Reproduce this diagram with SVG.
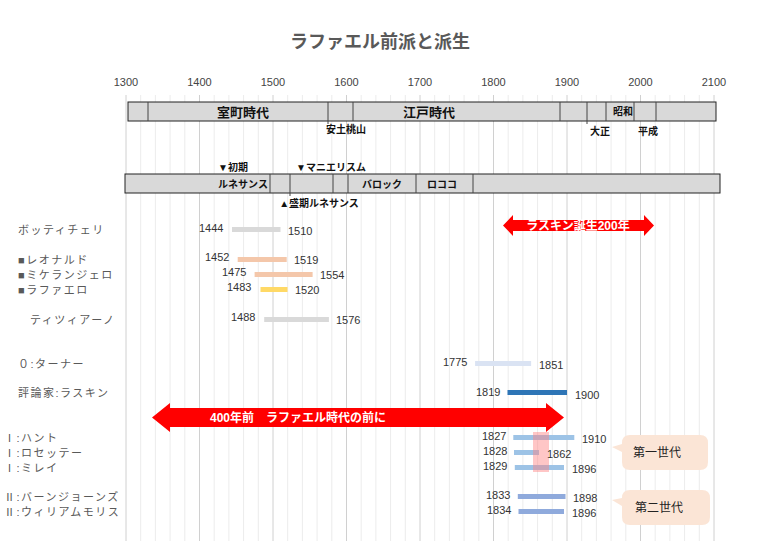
<svg xmlns="http://www.w3.org/2000/svg" width="761" height="541" viewBox="0 0 761 541">
<style>
text{font-family:"Liberation Sans","Noto Sans CJK JP",sans-serif;fill:#333}
.t{font-size:11px}
.lb{font-size:11px;fill:#595959;letter-spacing:1.5px}
.ax{font-size:11px;fill:#444;text-anchor:middle}
.era{font-size:13px;font-weight:bold;fill:#111;text-anchor:middle}
.sm{font-size:10px;font-weight:bold;fill:#111;text-anchor:middle}
.bar{stroke:none}
.mj{stroke:#d0d0d0;stroke-width:1}
.mn{stroke:#ececec;stroke-width:1}
.wt{font-size:12px;font-weight:bold;fill:#fff;text-anchor:middle}
</style>
<rect width="761" height="541" fill="#fff"/>
<text x="380" y="48" text-anchor="middle" style="font-size:18px;font-weight:bold;fill:#595959">ラファエル前派と派生</text>
<g id="grid">
<g class="mn">
<line x1="140.7" y1="95" x2="140.7" y2="541"/><line x1="155.4" y1="95" x2="155.4" y2="541"/><line x1="170.1" y1="95" x2="170.1" y2="541"/><line x1="184.8" y1="95" x2="184.8" y2="541"/>
<line x1="214.2" y1="95" x2="214.2" y2="541"/><line x1="228.9" y1="95" x2="228.9" y2="541"/><line x1="243.6" y1="95" x2="243.6" y2="541"/><line x1="258.3" y1="95" x2="258.3" y2="541"/>
<line x1="287.7" y1="95" x2="287.7" y2="541"/><line x1="302.4" y1="95" x2="302.4" y2="541"/><line x1="317.1" y1="95" x2="317.1" y2="541"/><line x1="331.8" y1="95" x2="331.8" y2="541"/>
<line x1="361.2" y1="95" x2="361.2" y2="541"/><line x1="375.9" y1="95" x2="375.9" y2="541"/><line x1="390.6" y1="95" x2="390.6" y2="541"/><line x1="405.3" y1="95" x2="405.3" y2="541"/>
<line x1="434.7" y1="95" x2="434.7" y2="541"/><line x1="449.4" y1="95" x2="449.4" y2="541"/><line x1="464.1" y1="95" x2="464.1" y2="541"/><line x1="478.8" y1="95" x2="478.8" y2="541"/>
<line x1="508.2" y1="95" x2="508.2" y2="541"/><line x1="522.9" y1="95" x2="522.9" y2="541"/><line x1="537.6" y1="95" x2="537.6" y2="541"/><line x1="552.3" y1="95" x2="552.3" y2="541"/>
<line x1="581.7" y1="95" x2="581.7" y2="541"/><line x1="596.4" y1="95" x2="596.4" y2="541"/><line x1="611.1" y1="95" x2="611.1" y2="541"/><line x1="625.8" y1="95" x2="625.8" y2="541"/>
<line x1="655.2" y1="95" x2="655.2" y2="541"/><line x1="669.9" y1="95" x2="669.9" y2="541"/><line x1="684.6" y1="95" x2="684.6" y2="541"/><line x1="699.3" y1="95" x2="699.3" y2="541"/>
</g>
<g class="mj">
<line x1="126" y1="95" x2="126" y2="541"/><line x1="199.5" y1="95" x2="199.5" y2="541"/><line x1="273" y1="95" x2="273" y2="541"/><line x1="346.5" y1="95" x2="346.5" y2="541"/><line x1="420" y1="95" x2="420" y2="541"/><line x1="493.5" y1="95" x2="493.5" y2="541"/><line x1="567" y1="95" x2="567" y2="541"/><line x1="640.5" y1="95" x2="640.5" y2="541"/><line x1="714" y1="95" x2="714" y2="541"/>
</g>
<text class="ax" x="126" y="86">1300</text><text class="ax" x="199.5" y="86">1400</text><text class="ax" x="273" y="86">1500</text><text class="ax" x="346.5" y="86">1600</text><text class="ax" x="420" y="86">1700</text><text class="ax" x="493.5" y="86">1800</text><text class="ax" x="567" y="86">1900</text><text class="ax" x="640.5" y="86">2000</text><text class="ax" x="714" y="86">2100</text>
</g>
<g id="eras">
<rect x="128" y="102" width="588" height="19" fill="#d9d9d9" stroke="#222"/>
<g stroke="#444"><line x1="148" y1="102" x2="148" y2="121"/><line x1="328" y1="102" x2="328" y2="124"/><line x1="353" y1="102" x2="353" y2="121"/><line x1="560" y1="102" x2="560" y2="121"/><line x1="587" y1="102" x2="587" y2="124"/><line x1="606" y1="102" x2="606" y2="121"/><line x1="634" y1="102" x2="634" y2="121"/><line x1="656" y1="102" x2="656" y2="121"/></g>
<text class="era" x="243" y="117">室町時代</text><text class="era" x="429" y="117">江戸時代</text>
<text class="sm" x="623" y="115">昭和</text>
<text class="sm" x="346" y="133">安土桃山</text><text class="sm" x="600" y="135">大正</text><text class="sm" x="648" y="135">平成</text>
</g>
<g id="styles">
<rect x="125" y="174" width="595" height="19" fill="#d9d9d9" stroke="#222"/>
<g stroke="#444"><line x1="270" y1="174" x2="270" y2="193"/><line x1="290" y1="174" x2="290" y2="196"/><line x1="333" y1="174" x2="333" y2="193"/><line x1="348" y1="174" x2="348" y2="193"/><line x1="416" y1="174" x2="416" y2="193"/><line x1="473" y1="174" x2="473" y2="193"/></g>
<text class="sm" x="243" y="188">ルネサンス</text><text class="sm" x="382" y="188">バロック</text><text class="sm" x="442" y="188">ロココ</text>
<text class="sm" x="233" y="171">▼初期</text><text class="sm" x="331" y="171">▼マニエリスム</text><text class="sm" x="319" y="207">▲盛期ルネサンス</text>
</g>
<g id="labels">
<text class="lb" x="18" y="234">ボッティチェリ</text>
<text class="lb" x="18" y="264">■レオナルド</text><text class="lb" x="18" y="279">■ミケランジェロ</text><text class="lb" x="18" y="294">■ラファエロ</text>
<text class="lb" x="30" y="324">ティツィアーノ</text>
<text class="lb" x="18" y="368">０:ターナー</text>
<text class="lb" x="18" y="397">評論家:ラスキン</text>
<text class="lb" x="4" y="442">Ⅰ:ハント</text><text class="lb" x="4" y="457">Ⅰ:ロセッテー</text><text class="lb" x="4" y="472">Ⅰ:ミレイ</text>
<text class="lb" x="4" y="501">Ⅱ:バーンジョーンズ</text><text class="lb" x="4" y="516">Ⅱ:ウィリアムモリス</text>
</g>
<g id="bars">
<rect class="bar" x="232" y="227" width="48.5" height="5" fill="#d9d9d9"/>
<rect class="bar" x="237.7" y="257" width="49" height="5" fill="#f4c7aa"/>
<rect class="bar" x="254.6" y="272" width="58" height="5" fill="#f4c7aa"/>
<rect class="bar" x="260.5" y="287" width="27" height="5" fill="#ffd966"/>
<rect class="bar" x="264.2" y="317" width="64.7" height="5" fill="#d9d9d9"/>
<rect class="bar" x="475.1" y="361" width="56" height="5" fill="#dae3f3"/>
<rect class="bar" x="507.5" y="390" width="59.5" height="5" fill="#2e75b6"/>
<rect class="bar" x="513.3" y="435" width="61" height="5" fill="#9dc3e6"/>
<rect class="bar" x="514" y="450" width="25" height="5" fill="#9dc3e6"/>
<rect class="bar" x="514.8" y="465" width="49.2" height="5" fill="#9dc3e6"/>
<rect class="bar" x="517.8" y="494" width="47.7" height="5" fill="#8faadc"/>
<rect class="bar" x="518.5" y="509" width="45.5" height="5" fill="#8faadc"/>
<rect x="533" y="432" width="16" height="40" fill="#ff8080" opacity="0.45"/>
</g>
<g id="years" class="t">
<text class="t" x="199" y="232">1444</text><text class="t" x="288" y="235">1510</text>
<text class="t" x="205" y="261">1452</text><text class="t" x="294" y="264">1519</text>
<text class="t" x="222" y="276">1475</text><text class="t" x="320" y="279">1554</text>
<text class="t" x="227" y="291">1483</text><text class="t" x="295" y="294">1520</text>
<text class="t" x="231" y="321">1488</text><text class="t" x="336" y="324">1576</text>
<text class="t" x="443" y="366">1775</text><text class="t" x="539" y="369">1851</text>
<text class="t" x="476" y="396">1819</text><text class="t" x="575" y="399">1900</text>
<text class="t" x="482" y="440">1827</text><text class="t" x="582" y="443">1910</text>
<text class="t" x="483" y="455">1828</text><text class="t" x="547" y="458">1862</text>
<text class="t" x="483" y="470">1829</text><text class="t" x="572" y="473">1896</text>
<text class="t" x="486" y="499">1833</text><text class="t" x="573" y="502">1898</text>
<text class="t" x="487" y="514">1834</text><text class="t" x="572" y="517">1896</text>
</g>
<g id="arrows">
<polygon points="503,225.5 513,215 513,220 644,220 644,215 654,225.5 644,236 644,231 513,231 513,236" fill="#ff0000"/>
<text class="wt" x="578" y="230">ラスキン誕生200年</text>
<polygon points="152,417.5 170,403 170,408 546,408 546,403 564,417.5 546,432 546,427 170,427 170,432" fill="#ff0000"/>
<text class="wt" x="298" y="422">400年前　ラファエル時代の前に</text>
</g>
<g id="callout1">
<path d="M630,435 H700 Q708,435 708,443 V462 Q708,470 700,470 H630 Q622,470 622,462 V452 L612,447 L622,444 V443 Q622,435 630,435 Z" fill="#fbe5d6"/>
<text x="657" y="457" text-anchor="middle" style="font-size:12px;fill:#222">第一世代</text>
</g>
<g id="callout2">
<path d="M630,490 H702 Q710,490 710,498 V517 Q710,525 702,525 H630 Q622,525 622,517 V506 L612,500 L622,498 Q622,490 630,490 Z" fill="#fbe5d6"/>
<text x="659" y="512" text-anchor="middle" style="font-size:12px;fill:#222">第二世代</text>
</g>
</svg>
